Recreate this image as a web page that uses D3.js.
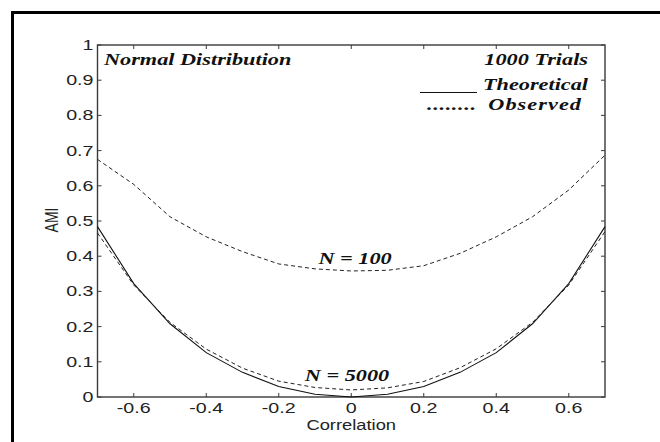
<!DOCTYPE html>
<html>
<head>
<meta charset="utf-8">
<script src="https://cdn.jsdelivr.net/npm/d3@7"></script>
<style>
  html, body { margin: 0; padding: 0; background: #fff; }
  svg { display: block; }
  .tick-lbl { font-family: "Liberation Sans", Arial, sans-serif; font-size: 15px; fill: #222; }
  .axis-lbl { font-family: "Liberation Sans", Arial, sans-serif; font-size: 14px; fill: #222; }
  .note { font-family: "Liberation Serif", "Times New Roman", serif; font-style: italic; font-weight: bold; font-size: 17px; fill: #111; }
</style>
</head>
<body>
<svg id="chart" width="660" height="442"></svg>
<script>
// ── Data ────────────────────────────────────────────────────────────────────
const correlation   = [-0.7, -0.6, -0.5, -0.4, -0.3, -0.2, -0.1, 0, 0.1, 0.2, 0.3, 0.4, 0.5, 0.6, 0.7];
const theoretical   = [0.484, 0.322, 0.208, 0.126, 0.070, 0.030, 0.008, 0, 0.008, 0.030, 0.070, 0.126, 0.208, 0.322, 0.484];
const observed5000  = [0.466, 0.318, 0.212, 0.136, 0.082, 0.045, 0.027, 0.020, 0.026, 0.044, 0.083, 0.137, 0.212, 0.318, 0.470];
const observed100   = [0.675, 0.604, 0.512, 0.455, 0.413, 0.378, 0.364, 0.358, 0.360, 0.373, 0.408, 0.455, 0.512, 0.588, 0.687];
const xTicks = [-0.6, -0.4, -0.2, 0, 0.2, 0.4, 0.6];
const yTicks = [0, 0.1, 0.2, 0.3, 0.4, 0.5, 0.6, 0.7, 0.8, 0.9, 1];

const svg = d3.select("#chart");
const SX = 1.31;   // the figure's text is stretched sideways

// text helper: positioned by translate so the horizontal stretch keeps its anchor
function label(cls, px, py, str, anchor, rot) {
  return svg.append("text").attr("class", cls)
    .attr("transform", `translate(${px},${py}) scale(${SX},1)` + (rot ? ` rotate(${rot})` : ""))
    .attr("text-anchor", anchor || "start")
    .text(str);
}

// outer frame (right and bottom edges fall outside the picture)
svg.append("path")
  .attr("d", "M12.5,442 V12.5 H660")
  .attr("fill", "none").attr("stroke", "#000").attr("stroke-width", 3);

const L = 97.5, R = 605, T = 45, B = 397;
const x = d3.scaleLinear().domain([-0.7, 0.7]).range([L, R]);
const y = d3.scaleLinear().domain([0, 1]).range([B, T]);

const axisColor = "#3a3a3a";
const tickLen = 4;
const fmt = v => (v === 0 || v === 1) ? String(v) : d3.format(".1f")(v).replace("\u2212", "-");

// ticks inside on all four sides
xTicks.forEach(v => {
  svg.append("line").attr("x1", x(v)).attr("x2", x(v)).attr("y1", B).attr("y2", B - tickLen)
    .attr("stroke", axisColor);
  svg.append("line").attr("x1", x(v)).attr("x2", x(v)).attr("y1", T).attr("y2", T + tickLen)
    .attr("stroke", axisColor);
  label("tick-lbl", x(v), 413, fmt(v), "middle");
});
yTicks.forEach(v => {
  svg.append("line").attr("x1", L).attr("x2", L + tickLen).attr("y1", y(v)).attr("y2", y(v))
    .attr("stroke", axisColor);
  svg.append("line").attr("x1", R).attr("x2", R - tickLen).attr("y1", y(v)).attr("y2", y(v))
    .attr("stroke", axisColor);
  label("tick-lbl", L - 4, y(v) + 5, fmt(v), "end");
});

// box
svg.append("rect").attr("x", L).attr("y", T).attr("width", R - L).attr("height", B - T)
  .attr("fill", "none").attr("stroke", axisColor).attr("stroke-width", 1.4);

// axis labels
label("axis-lbl", x(0), 430, "Correlation", "middle");
label("axis-lbl", 58, 220, "AMI", "middle", -90);

// curves
const line = d3.line().x((d, i) => x(correlation[i])).y(d => y(d));
svg.append("path").datum(theoretical).attr("d", line)
  .attr("fill", "none").attr("stroke", "#111").attr("stroke-width", 1.1);
[observed5000, observed100].forEach(s => {
  svg.append("path").datum(s).attr("d", line)
    .attr("fill", "none").attr("stroke", "#222").attr("stroke-width", 1)
    .attr("stroke-dasharray", "4,3");
});

// annotations
label("note", 104, 65, "Normal Distribution");
label("note", 588, 65, "1000 Trials", "end");
label("note", 588, 90, "Theoretical", "end");
label("note", 582, 110, "Observed", "end").attr("letter-spacing", 0.8);
svg.append("line").attr("x1", 420).attr("x2", 477).attr("y1", 92.5).attr("y2", 92.5)
  .attr("stroke", "#111").attr("stroke-width", 1);
label("note", 427, 110, "........").attr("letter-spacing", 0.5);
label("note", 355, 264, "N = 100", "middle");
label("note", 347, 381, "N = 5000", "middle");
</script>
</body>
</html>
